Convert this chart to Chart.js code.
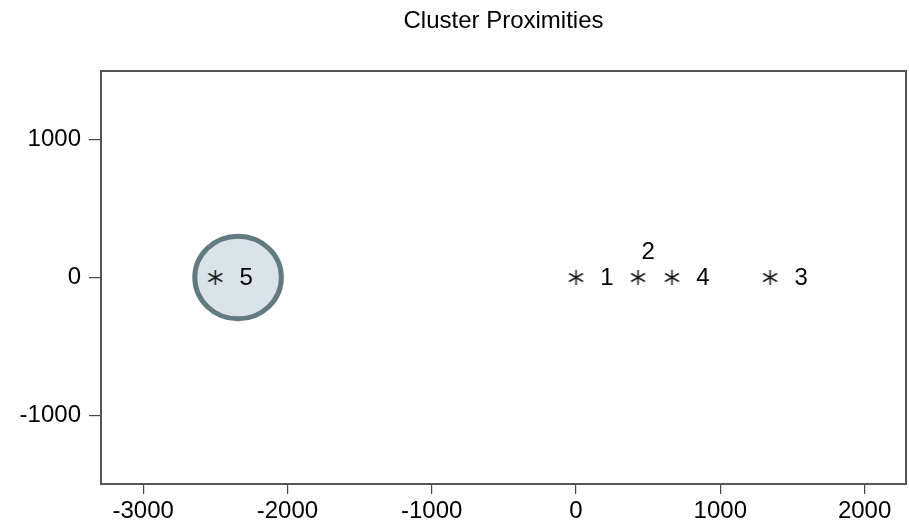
<!DOCTYPE html>
<html>
<head>
<meta charset="utf-8">
<title>Cluster Proximities</title>
<script src="https://cdn.jsdelivr.net/npm/chart.js@4.4.1/dist/chart.umd.min.js"></script>
<style>
  html, body { margin: 0; padding: 0; background: #ffffff; }
  #wrap { width: 909px; height: 522px; }
</style>
</head>
<body>
<div id="wrap"><canvas id="proxChart" width="909" height="522"></canvas></div>
<script>
// Cluster centres (proximity map)
const clusterLabels = ["1", "2", "3", "4", "5"];
const clusterX = [0, 430, 1345, 665, -2500];
const clusterY = [0, 0, 0, 0, 0];

// Highlight circle around cluster 5 (data units)
const circleX = [-2342];
const circleY = [0];
const circleRadius = [300];

// Axis ticks
const xTicks = [-3000, -2000, -1000, 0, 1000, 2000];
const yTicks = [-1000, 0, 1000];

const FONT = "'Liberation Sans', Arial, sans-serif";

// label "2" sits above its star, others to the right
const labelAbove = ["2"];

// asterisk marker: vertical stroke + two diagonals
function makeStar() {
  const c = document.createElement("canvas");
  c.width = 17;
  c.height = 17;
  const g = c.getContext("2d");
  g.strokeStyle = "#1a1a1a";
  g.lineWidth = 1.5;
  g.beginPath();
  g.moveTo(8.5, 1);
  g.lineTo(8.5, 16);
  const a = Math.PI / 6;
  const r = 8;
  g.moveTo(8.5 - r * Math.cos(a), 8.5 - r * Math.sin(a));
  g.lineTo(8.5 + r * Math.cos(a), 8.5 + r * Math.sin(a));
  g.moveTo(8.5 - r * Math.cos(a), 8.5 + r * Math.sin(a));
  g.lineTo(8.5 + r * Math.cos(a), 8.5 - r * Math.sin(a));
  g.stroke();
  return c;
}

const points = clusterX.map((x, i) => ({ x: x, y: clusterY[i] }));

// circle + frame + title + point labels
const decorations = {
  id: "decorations",
  beforeDatasetsDraw(chart) {
    const ctx = chart.ctx;
    const xs = chart.scales.x;
    const ys = chart.scales.y;
    ctx.save();
    circleX.forEach((cx, i) => {
      const px = xs.getPixelForValue(cx);
      const py = ys.getPixelForValue(circleY[i]);
      const rx = Math.abs(xs.getPixelForValue(cx + circleRadius[i]) - px);
      const ry = Math.abs(ys.getPixelForValue(circleY[i] + circleRadius[i]) - py);
      ctx.beginPath();
      ctx.ellipse(px, py, rx, ry, 0, 0, Math.PI * 2);
      ctx.fillStyle = "#d9e3e8";
      ctx.fill();
      ctx.lineWidth = 5;
      ctx.strokeStyle = "#627b81";
      ctx.stroke();
    });
    ctx.restore();
  },
  afterDraw(chart) {
    const ctx = chart.ctx;
    const area = chart.chartArea;
    const xs = chart.scales.x;
    const ys = chart.scales.y;
    ctx.save();
    // frame
    ctx.strokeStyle = "#555555";
    ctx.lineWidth = 2;
    ctx.strokeRect(area.left, area.top, area.right - area.left, area.bottom - area.top);
    // title
    ctx.fillStyle = "#000000";
    ctx.font = "24px " + FONT;
    ctx.textAlign = "center";
    ctx.textBaseline = "alphabetic";
    ctx.fillText("Cluster Proximities", (area.left + area.right) / 2, 28);
    // point labels
    ctx.font = "24px " + FONT;
    ctx.textBaseline = "middle";
    clusterLabels.forEach((lab, i) => {
      const px = xs.getPixelForValue(clusterX[i]);
      const py = ys.getPixelForValue(clusterY[i]);
      if (labelAbove.includes(lab)) {
        ctx.fillText(lab, px + 10, py - 25);
      } else {
        ctx.fillText(lab, px + 31, py + 1);
      }
    });
    ctx.restore();
  },
};

const chart = new Chart(document.getElementById("proxChart"), {
  type: "scatter",
  data: {
    datasets: [
      {
        label: "Clusters",
        data: points,
        pointStyle: makeStar(),
        pointRadius: 8,
        pointHoverRadius: 8,
      },
    ],
  },
  options: {
    responsive: false,
    animation: false,
    events: [],
    layout: { autoPadding: false, padding: { top: 71, right: 3, left: 0, bottom: 0 } },
    plugins: {
      legend: { display: false },
      tooltip: { enabled: false },
      title: { display: false },
    },
    scales: {
      x: {
        type: "linear",
        min: -3292,
        max: 2287,
        afterFit: (s) => { s.height = 38; s.paddingLeft = 0; s.paddingRight = 0; },
        afterBuildTicks: (s) => { s.ticks = xTicks.map((v) => ({ value: v })); },
        ticks: {
          color: "#000000",
          font: { family: FONT, size: 24 },
          padding: 3,
          maxRotation: 0,
          autoSkip: false,
          callback: (v) => String(v),
        },
        grid: {
          drawOnChartArea: false,
          drawTicks: true,
          tickLength: 10,
          color: "#444444",
          lineWidth: 1.2,
        },
        border: { display: true, color: "#555555", width: 2 },
      },
      y: {
        type: "linear",
        min: -1500,
        max: 1500,
        afterFit: (s) => { s.width = 101; s.paddingTop = 0; s.paddingBottom = 0; },
        afterBuildTicks: (s) => { s.ticks = yTicks.map((v) => ({ value: v })); },
        ticks: {
          color: "#000000",
          font: { family: FONT, size: 24 },
          padding: 8,
          autoSkip: false,
          callback: (v) => String(v),
        },
        grid: {
          drawOnChartArea: false,
          drawTicks: true,
          tickLength: 12,
          color: "#444444",
          lineWidth: 1.2,
        },
        border: { display: true, color: "#555555", width: 2 },
      },
    },
  },
  plugins: [decorations],
});
</script>
</body>
</html>
